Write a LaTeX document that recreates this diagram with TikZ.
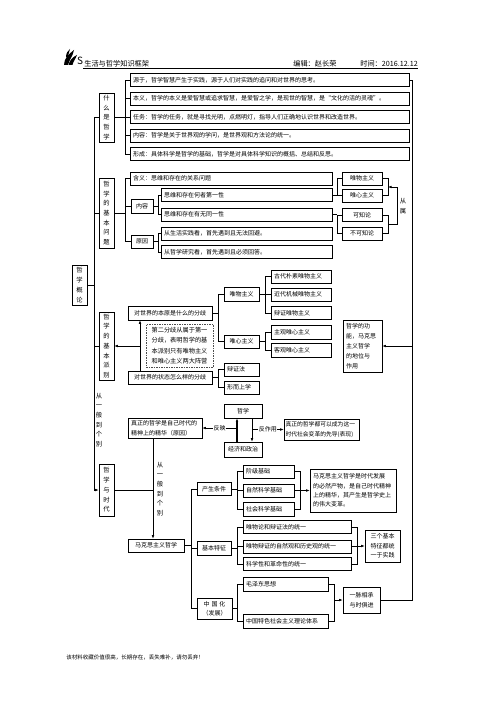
\documentclass[tikz,border=0pt]{standalone}
\usepackage{fontspec}
\setmainfont{Noto Sans CJK SC}
\usetikzlibrary{arrows.meta}

\newcommand\tpetit{\fontsize{6}{10}\selectfont}
\newcommand\tcol{\fontsize{6.3}{9.7}\selectfont}

\begin{document}
\begin{tikzpicture}[x=1pt,y=-1pt,line width=0.6pt,
  box/.style={draw,inner sep=0pt,minimum height=13pt,font=\tpetit},
  lbox/.style={draw,inner xsep=3pt,inner ysep=0pt,minimum height=13pt,text width=#1,align=left,font=\tpetit},
  vbox/.style={draw,inner sep=0pt,minimum width=15pt,align=center,font=\tcol},
  vtxt/.style={inner sep=0pt,align=center,font=\tcol},
  lab/.style={fill=white,inner sep=0.6pt,font=\tpetit},
  fl/.style={-{Latex[length=3.5pt,width=2.6pt]}}]
\fill[white] (0,0) rectangle (503,711);
\useasboundingbox (0,0) rectangle (503,711);

% En-tete
\fill (64,65) .. controls (64,58) and (69,54) .. (74,50) .. controls (73,56) and (69,60) .. (68,65) -- cycle;
\fill (68.5,65) .. controls (69.5,60) and (73,57) .. (77,55) .. controls (75.5,59) and (73,62) .. (72.5,65) -- cycle;
\fill (66,57) .. controls (66,53) and (68,51) .. (70,49) .. controls (69.5,52) and (68,55) .. (67.5,57.5) -- cycle;
\node[inner sep=0pt,font=\fontsize{10}{10}\selectfont] (logo) at (80,60.5) {\textit{S}};
\node[anchor=base west,inner sep=0pt,font=\fontsize{7.2}{9}\selectfont] (titre) at (84,66.5) {生活与哲学知识框架};
\node[anchor=base west,inner sep=0pt,font=\fontsize{7.2}{9}\selectfont] (auteur) at (293,66.5) {编辑：赵长荣};
\node[anchor=base west,inner sep=0pt,font=\fontsize{7.2}{9}\selectfont] (date) at (360,66.5) {时间：2016.12.12};
\draw[line width=1pt] (83,68.5) -- (418,68.5);

% Abscisses des accolades
\coordinate (xa) at (94,0);
\coordinate (xb) at (125,0);
\coordinate (xc) at (158,0);
\coordinate (xd) at (337,0);
\coordinate (xe) at (388,0);
\coordinate (xf) at (397,0);
\coordinate (xg) at (412,0);
\coordinate (xh) at (218,0);
\coordinate (xi) at (265,0);
\coordinate (xj) at (140,0);
\coordinate (xk) at (191,0);
\coordinate (xl) at (237,0);
\coordinate (xm) at (300,0);
\coordinate (xn) at (357,0);
\coordinate (xo) at (334,0);
\coordinate (xp) at (153,0);
\coordinate (xq) at (252,0);

% Qu'est-ce que la philosophie
\node[vbox,minimum height=49pt] (q1) at (106.5,117.5) {什\\么\\是\\哲\\学};
\node[lbox=273pt] (s1) at (269.5,80) {源于，哲学智慧产生于实践，源于人们对实践的追问和对世界的思考。};
\node[lbox=273pt] (s2) at (269.5,98.5) {本义，哲学的本义是爱智慧或追求智慧，是爱智之学，是现世的智慧，是“文化的活的灵魂”。};
\node[lbox=273pt] (s3) at (269.5,117) {任务：哲学的任务，就是寻找光明，点燃明灯，指导人们正确地认识世界和改造世界。};
\node[lbox=273pt] (s4) at (269.5,135.5) {内容：哲学是关于世界观的学问，是世界观和方法论的统一。};
\node[lbox=273pt] (s5) at (269.5,154) {形成：具体科学是哲学的基础，哲学是对具体科学知识的概括、总结和反思。};
\draw (q1.east) -- (xb |- q1.east);
\draw (s1.west) -- (xb |- s1.west) -- (xb |- s5.west) -- (s5.west);
\foreach \n in {s2,s3,s4} \draw (\n.west) -- (xb |- \n.west);

% Question fondamentale
\node[vbox,minimum height=70pt] (q2) at (106.5,213) {哲\\学\\的\\基\\本\\问\\题};
\node[lbox=196pt] (hy) at (231,178.5) {含义：思维和存在的关系问题};
\node[box,minimum width=22pt,minimum height=14pt] (nr) at (142,206) {内容};
\node[box,minimum width=22pt] (yy) at (142,241.5) {原因};
\node[lbox=165pt] (p1) at (246.5,195) {思维和存在何者第一性};
\node[lbox=165pt] (p2) at (246.5,214.5) {思维和存在有无同一性};
\node[lbox=165pt] (r1) at (246.5,233.5) {从生活实践看，首先遇到且无法回避。};
\node[lbox=165pt] (r2) at (246.5,252) {从哲学研究看，首先遇到且必须回答。};
\node[box,minimum width=40pt] (wm) at (362,178.5) {唯物主义};
\node[box,minimum width=40pt] (wx) at (362,195.5) {唯心主义};
\node[box,minimum width=40pt] (kz) at (362,215) {可知论};
\node[box,minimum width=40pt] (bk) at (362,233.5) {不可知论};
\draw (q2.east) -- (xb |- q2.east);
\draw (hy.west) -- (xb |- hy.west) -- (xb |- yy.west) -- (yy.west);
\draw (nr.west) -- (xb |- nr.west);
\draw (nr.east) -- (xc |- nr.east);
\draw (p1.west) -- (xc |- p1.west) -- (xc |- p2.west) -- (p2.west);
\draw (yy.east) -- (xc |- yy.east);
\draw (r1.west) -- (xc |- r1.west) -- (xc |- r2.west) -- (r2.west);
\draw (wm.west) -- (xd |- wm.west) -- (xd |- wx.west) -- (wx.west);
\draw (p1.east) -- (xd |- p1.east);
\draw (kz.west) -- (xd |- kz.west) -- (xd |- bk.west) -- (bk.west);
\draw (p2.east) -- (xd |- p2.east);
\draw (wm.east) -- (xe |- wm.east) -- (xe |- wx.east) -- (wx.east);
\draw (kz.east) -- (xe |- kz.east) -- (xe |- bk.east) -- (bk.east);
\coordinate (ca) at (388,187);
\coordinate (cb) at (388,224.25);
\draw[fl] (cb) -- (xf |- cb) -- (xf |- ca) -- (ca);
\node[vtxt] (cs0) at (403,206) {从\\属};

% Introduction
\node[vbox,minimum height=40pt,font=\fontsize{6.3}{10}\selectfont] (gl) at (79.5,285) {哲\\学\\概\\论};

% Courants fondamentaux
\node[vbox,minimum height=68pt] (q3) at (106.5,346) {哲\\学\\的\\基\\本\\派\\别};
\node[box,minimum width=84pt,minimum height=14pt] (by) at (170,313) {对世界的本原是什么的分歧};
\node[box,minimum width=84pt] (zt) at (170,377.5) {对世界的状态怎么样的分歧};
\node[draw=black!70,dash pattern=on 1.5pt off 1pt,inner sep=0pt,minimum width=67pt,minimum height=43pt,align=left,font=\fontsize{6.2}{10.5}\selectfont] (ef) at (179.5,345.5) {第二分歧从属于第一\\分歧，表明哲学的基\\本派别只有唯物主义\\和唯心主义两大阵营};
\node[box,minimum width=35pt,minimum height=14pt] (wz) at (241.5,294) {唯物主义};
\node[box,minimum width=35pt] (wx2) at (241.5,341.5) {唯心主义};
\node[lbox=54pt] (gd) at (301,276.5) {古代朴素唯物主义};
\node[lbox=54pt] (jd) at (301,294.5) {近代机械唯物主义};
\node[lbox=54pt] (bz) at (301,313) {辩证唯物主义};
\node[lbox=54pt,minimum height=14pt] (zg) at (301,332) {主观唯心主义};
\node[lbox=54pt,minimum height=14pt] (kg) at (301,350) {客观唯心主义};
\node[lbox=29pt] (bzf) at (241.5,369.5) {辩证法};
\node[lbox=29pt] (xs) at (241.5,387.5) {形而上学};
\node[lbox=33pt,minimum height=52pt] (gn) at (362.5,346) {哲学的功\\能，马克思\\主义哲学\\的地位与\\作用};
\draw[fl] (zt.north -| xj) -- (by.south -| xj);
\draw[fl] (xj |- q3.east) -- (q3.east);
\draw (by.east) -- (xh |- by.east);
\draw (wz.west) -- (xh |- wz.west) -- (xh |- wx2.west) -- (wx2.west);
\draw (wz.east) -- (xi |- wz.east);
\draw (gd.west) -- (xi |- gd.west) -- (xi |- bz.west) -- (bz.west);
\draw (jd.west) -- (xi |- jd.west);
\draw (wx2.east) -- (xi |- wx2.east);
\draw (zg.west) -- (xi |- zg.west) -- (xi |- kg.west) -- (kg.west);
\draw (zt.east) -- (xh |- zt.east);
\draw (bzf.west) -- (xh |- bzf.west) -- (xh |- xs.west) -- (xs.west);

\node[vtxt] (cg1) at (99,420) {从\\一\\般\\到\\个\\别};

% Philosophie et epoque
\node[vbox,minimum height=52pt] (q4) at (106.5,490) {哲\\学\\与\\时\\代};
\node[lbox=68pt,minimum height=20pt,font=\fontsize{6}{9.5}\selectfont] (jz) at (165,428) {真正的哲学是自己时代的\\精神上的精华（原因）};
\node[box,minimum width=38pt,minimum height=14pt] (zx) at (243,411) {哲学};
\node[box,minimum width=38pt,minimum height=15pt] (jj) at (243,449.5) {经济和政治};
\node[draw,inner xsep=1.5pt,inner ysep=0pt,text width=72pt,align=left,minimum height=21pt,font=\fontsize{5.8}{9.5}\selectfont] (bg) at (321.5,429.5) {真正的哲学都可以成为这一\\时代社会变革的先导(表现)};
\draw[fl,line width=1.1pt] (jj.north -| xl) -- (zx.south -| xl);
\draw[fl] (zx.south -| xq) -- (jj.north -| xq);
\draw[fl] (xl |- jz.east) -- node[lab] {反映} (jz.east);
\draw[fl] (xq |- bg.west) -- node[lab] {反作用} (bg.west);

\node[box,minimum width=56pt] (mk) at (156,545.5) {马克思主义哲学};
\draw (q4.east) -- (xp |- q4.east);
\draw[fl] (jz.south -| xp) -- (mk.north -| xp);
\node[vtxt] (cg2) at (160,489) {从\\一\\般\\到\\个\\别};

\node[box,minimum width=34pt] (cs) at (214,489) {产生条件};
\node[box,minimum width=34pt,minimum height=14pt] (jb) at (214,548) {基本特征};
\node[box,minimum width=35pt,minimum height=21pt,align=center,font=\fontsize{6}{9}\selectfont] (zg2) at (214.5,608.5) {中\hspace{2pt}国\hspace{2pt}化\\（发展）};
\node[lbox=45pt] (jc) at (268.5,471.5) {阶级基础};
\node[lbox=45pt] (zr) at (268.5,490.5) {自然科学基础};
\node[lbox=45pt,minimum height=14pt] (sh) at (268.5,509) {社会科学基础};
\node[lbox=80pt,minimum height=43pt,font=\fontsize{6}{9.4}\selectfont] (sd) at (353,490.5) {马克思主义哲学是时代发展\\的必然产物，是自己时代精神\\上的精华，其产生是哲学史上\\的伟大变革。};
\node[lbox=102pt] (tz1) at (297,527) {唯物论和辩证法的统一};
\node[lbox=102pt] (tz2) at (297,546.5) {唯物辩证的自然观和历史观的统一};
\node[lbox=102pt] (tz3) at (297,564) {科学性和革命性的统一};
\node[box,minimum width=35pt,minimum height=32pt,align=center,font=\fontsize{6}{9.5}\selectfont] (sg) at (382.5,546) {三个基本\\特征都统\\一于实践};
\node[lbox=79pt,minimum height=14pt] (mz) at (285.5,584) {毛泽东思想};
\node[lbox=79pt,minimum height=14pt] (zt2) at (285.5,621) {中国特色社会主义理论体系};
\node[box,minimum width=37pt,minimum height=26pt,align=center,font=\fontsize{6}{10}\selectfont] (ym) at (361.5,600) {一脉相承\\与时俱进};
\draw (mk.east) -- (xk |- mk.east);
\draw (cs.west) -- (xk |- cs.west) -- (xk |- zg2.west) -- (zg2.west);
\draw (jb.west) -- (xk |- jb.west);
\draw (cs.east) -- (xl |- cs.east);
\draw (jc.west) -- (xl |- jc.west) -- (xl |- sh.west) -- (sh.west);
\draw (zr.west) -- (xl |- zr.west);
\draw (jc.east) -- (xm |- jc.east) -- (xm |- sh.east) -- (sh.east);
\draw (zr.east) -- (xm |- zr.east);
\draw[fl] (xm |- sd.west) -- (sd.west);
\draw (jb.east) -- (xl |- jb.east);
\draw (tz1.west) -- (xl |- tz1.west) -- (xl |- tz3.west) -- (tz3.west);
\draw (tz2.west) -- (xl |- tz2.west);
\draw (tz1.east) -- (xn |- tz1.east) -- (xn |- tz3.east) -- (tz3.east);
\draw (tz2.east) -- (xn |- tz2.east);
\draw[fl] (xn |- sg.west) -- (sg.west);
\draw (zg2.east) -- (xl |- zg2.east);
\draw (mz.west) -- (xl |- mz.west) -- (xl |- zt2.west) -- (zt2.west);
\draw (mz.east) -- (xo |- mz.east) -- (xo |- zt2.east) -- (zt2.east);
\draw[fl] (xo |- ym.west) -- (ym.west);

% Grands traits gauche et droit
\draw[fl] (q1.west) -- (xa |- q1.west) -- (xa |- q4.west) -- (q4.west);
\draw (gl.east) -- (xa |- gl.east);
\draw (q2.west) -- (xa |- q2.west);
\draw (q3.west) -- (xa |- q3.west);
\draw (s1.east) -- (xg |- s1.east) -- (xg |- ym.east) -- (ym.east);
\draw[fl] (xg |- gn.east) -- (gn.east);

\node[anchor=west,inner sep=0pt,font=\fontsize{5.5}{7}\selectfont] (pied) at (66,657) {该材料收藏价值很高，长期存在，丢失难补，请勿丢弃！};
\end{tikzpicture}
\end{document}
